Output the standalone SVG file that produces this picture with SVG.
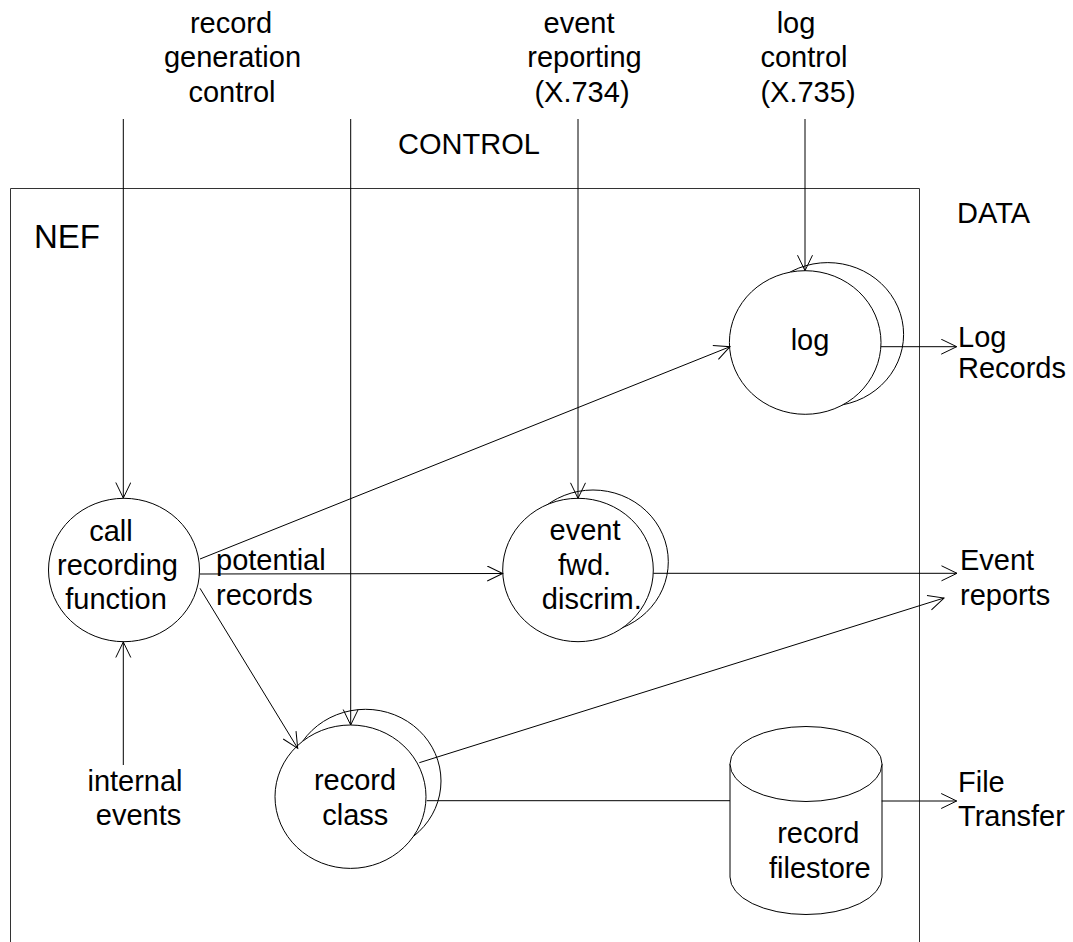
<svg xmlns="http://www.w3.org/2000/svg" width="1073" height="942" viewBox="0 0 1073 942">
<style>
text{font-family:"Liberation Sans",Arial,sans-serif;font-size:29px;fill:#000}
.m{text-anchor:middle}
.ln{fill:none;stroke:#000;stroke-width:1}
.nd{fill:#fff;stroke:#000;stroke-width:1}
.bx{fill:none;stroke:#333;stroke-width:1}
</style>
<defs>
<marker id="arr" markerUnits="userSpaceOnUse" markerWidth="20" markerHeight="18" viewBox="0 0 20 18" refX="16" refY="8" orient="auto">
<path d="M0.5,0.5 L16,8 L0.5,15.5" fill="none" stroke="#000" stroke-width="1"/>
</marker>
</defs>
<rect width="1073" height="942" fill="#fff"/>

<g id="nef-box">
<path class="bx" d="M10.5,942 V188.5 H919.5 V942"/>
<text x="34" y="248" style="font-size:33px">NEF</text>
</g>

<g id="labels">
<text class="m" x="231" y="33">record</text>
<text class="m" x="232.5" y="67">generation</text>
<text class="m" x="232" y="102">control</text>
<text class="m" x="579" y="33">event</text>
<text class="m" x="584.5" y="67">reporting</text>
<text class="m" x="582" y="102">(X.734)</text>
<text class="m" x="796" y="33">log</text>
<text class="m" x="804" y="67">control</text>
<text class="m" x="808" y="102">(X.735)</text>
<text class="m" x="469" y="154">CONTROL</text>
<text x="957" y="223">DATA</text>
<text class="m" x="135" y="791">internal</text>
<text class="m" x="138.5" y="825">events</text>
<text x="216" y="570">potential</text>
<text x="216" y="605">records</text>
<text x="958" y="347">Log</text>
<text x="958" y="378">Records</text>
<text x="960" y="570">Event</text>
<text x="960" y="605">reports</text>
<text x="958" y="792">File</text>
<text x="958" y="826">Transfer</text>
</g>

<g id="call-recording-function">
<ellipse class="nd" cx="124" cy="570" rx="75.5" ry="71.7"/>
<text class="m" x="111" y="541">call</text>
<text class="m" x="117.5" y="575">recording</text>
<text class="m" x="116" y="609">function</text>
</g>

<g id="log">
<ellipse class="nd" cx="827.8" cy="334.4" rx="75.8" ry="71.8"/>
<ellipse class="nd" cx="805.2" cy="342.5" rx="75.8" ry="71.8"/>
<text class="m" x="810" y="350">log</text>
</g>

<g id="event-fwd-discrim">
<ellipse class="nd" cx="593" cy="561.7" rx="75.3" ry="71.7"/>
<ellipse class="nd" cx="578" cy="570" rx="75.3" ry="71.7"/>
<text class="m" x="585" y="540">event</text>
<text class="m" x="584.5" y="575">fwd.</text>
<text class="m" x="591.8" y="609">discrim.</text>
</g>

<g id="record-class">
<ellipse class="nd" cx="365.5" cy="781" rx="75.5" ry="71.7"/>
<ellipse class="nd" cx="350.5" cy="796.7" rx="75.5" ry="71.7"/>
<text class="m" x="355" y="790">record</text>
<text class="m" x="355.3" y="825">class</text>
</g>

<g id="record-filestore">
<path class="nd" d="M730,764 V877 A76,37.5 0 0 0 882,877 V764 Z"/>
<ellipse class="nd" cx="806" cy="764" rx="76" ry="37.5"/>
<text class="m" x="818.3" y="843">record</text>
<text class="m" x="819.8" y="878">filestore</text>
</g>

<g id="connectors">
<path class="ln" d="M123.3,119 V498" marker-end="url(#arr)"/>
<path class="ln" d="M350.7,119 V725" marker-end="url(#arr)"/>
<path class="ln" d="M578,119 V498.3" marker-end="url(#arr)"/>
<path class="ln" d="M805,119 V270.7" marker-end="url(#arr)"/>
<path class="ln" d="M123.3,765 V642" marker-end="url(#arr)"/>
<path class="ln" d="M200,559 L730,346.7" marker-end="url(#arr)"/>
<path class="ln" d="M200,574 L502.7,573.5" marker-end="url(#arr)"/>
<path class="ln" d="M200,588.3 L297.7,748.3" marker-end="url(#arr)"/>
<path class="ln" d="M881,346.7 H956.7" marker-end="url(#arr)"/>
<path class="ln" d="M653.3,573.3 H957" marker-end="url(#arr)"/>
<path class="ln" d="M419.3,762.7 L944,598" marker-end="url(#arr)"/>
<path class="ln" d="M426.7,800.7 H730"/>
<path class="ln" d="M881.7,801 H956.7" marker-end="url(#arr)"/>
</g>
</svg>
